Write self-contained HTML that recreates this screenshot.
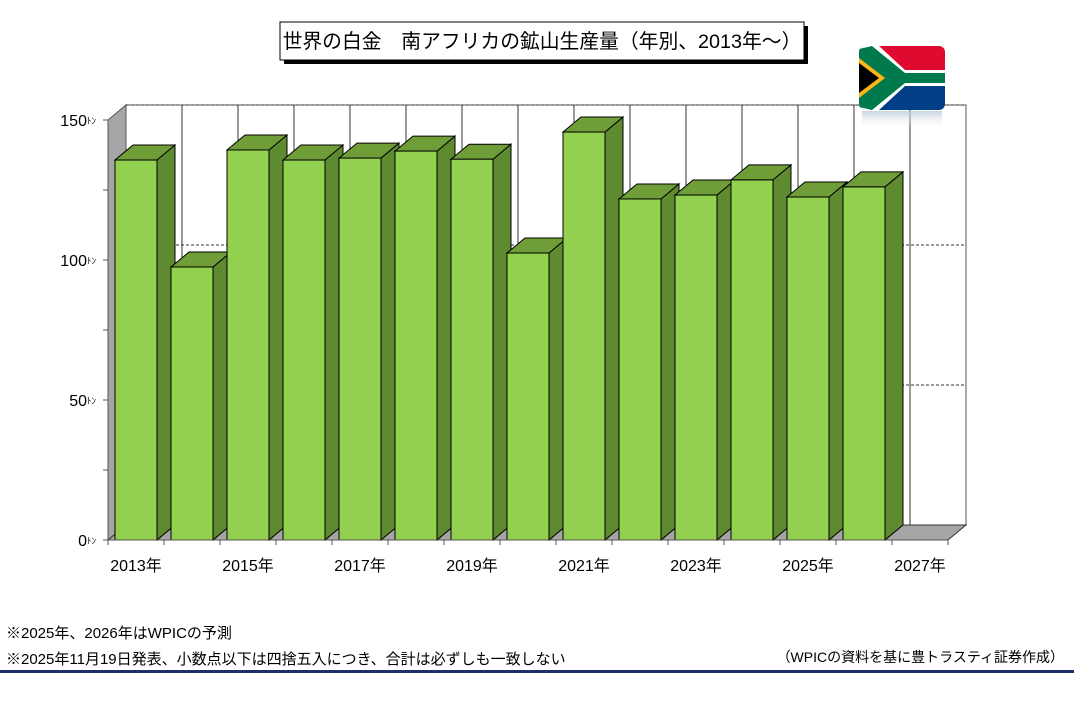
<!DOCTYPE html>
<html><head><meta charset="utf-8"><style>
body{margin:0;background:#fff;font-family:"Liberation Sans","Noto Sans CJK JP",sans-serif;}
#wrap{position:relative;width:1074px;height:707px;overflow:hidden;}
</style></head><body>
<div id="wrap">
<svg id="chart" width="1074" height="707" xmlns="http://www.w3.org/2000/svg" font-family="Liberation Sans, Noto Sans CJK JP, sans-serif"></svg>
</div>
<script>
const years=["2013年","2014年","2015年","2016年","2017年","2018年","2019年","2020年","2021年","2022年","2023年","2024年","2025年","2026年","2027年"];
const values=[135.7,97.5,139.3,135.7,136.4,138.9,136,102.5,145.7,121.8,123.2,128.6,122.5,126.1,null];
const tickValues=[0,50,100,150];
const tickLabels=["0","50","100","150"];
const xLabelYears=["2013年","2015年","2017年","2019年","2021年","2023年","2025年","2027年"];

const svg=document.getElementById('chart');
const NS='http://www.w3.org/2000/svg';
const X0=108,Y0=540,CW=56,DX=18,DY=-15,PX=2.8;
const yS=v=>Y0-v*PX;
const xS=i=>X0+i*CW;
function mk(tag,attrs,parent){const e=document.createElementNS(NS,tag);for(const k in attrs)e.setAttribute(k,attrs[k]);(parent||svg).appendChild(e);return e;}
const N=years.length, XR=xS(N);
// title
const tb=mk('rect',{x:284,y:26,width:524,height:38,fill:'#000'});

const tr=mk('rect',{x:280,y:22,width:524,height:38,fill:'#fff',stroke:'#000','stroke-width':1});

const tt=mk('text',{x:542,y:48,'text-anchor':'middle','font-size':19.8,fill:'#000'});
tt.textContent='世界の白金　南アフリカの鉱山生産量（年別、2013年～）';

// back wall
const bw=mk('rect',{x:X0+DX,y:yS(150)+DY,width:XR-X0,height:150*PX,fill:'#fff',stroke:'#555','stroke-width':1});

// left wall
const lw=mk('polygon',{points:`${X0},${yS(150)} ${X0+DX},${yS(150)+DY} ${X0+DX},${Y0+DY} ${X0},${Y0}`,fill:'#a6a6a6',stroke:'#555','stroke-width':1});

// floor
const fl=mk('polygon',{points:`${X0},${Y0} ${X0+DX},${Y0+DY} ${XR+DX},${Y0+DY} ${XR},${Y0}`,fill:'#a6a6a6',stroke:'#333','stroke-width':1});

// gridlines
tickValues.forEach(v=>{if(v===0)return;
 const g=mk('line',{x1:X0+DX,x2:XR+DX,y1:yS(v)+DY,y2:yS(v)+DY,stroke:'#333','stroke-dasharray':'3,2','stroke-width':1});
 });
for(let i=1;i<N;i++){const l=mk('line',{x1:xS(i)+DX,x2:xS(i)+DX,y1:yS(150)+DY,y2:Y0+DY,stroke:'#333','stroke-width':1});
 }
// bars
values.forEach((v,i)=>{if(v==null)return;
 const g=mk('g',{});
 const x=xS(i)+7,w=42,y=yS(v);
 mk('polygon',{points:`${x+w},${y} ${x+w+DX},${y+DY} ${x+w+DX},${Y0+DY} ${x+w},${Y0}`,fill:'#5e8a30',stroke:'#000','stroke-width':1},g);
 mk('polygon',{points:`${x},${y} ${x+DX},${y+DY} ${x+w+DX},${y+DY} ${x+w},${y}`,fill:'#6f9e38',stroke:'#000','stroke-width':1},g);
 mk('rect',{x:x,y:y,width:w,height:Y0-y,fill:'#92d050',stroke:'#000','stroke-width':1},g);
});
// y axis
const ya=mk('line',{x1:X0,x2:X0,y1:yS(150),y2:Y0,stroke:'#555'});

for(let v=0;v<=150;v+=25){mk('line',{x1:X0-5,x2:X0,y1:yS(v),y2:yS(v),stroke:'#555'});}
tickValues.forEach((v,i)=>{const t=mk('text',{x:X0-12,y:yS(v)+6,'text-anchor':'end','font-size':16,fill:'#000'});
 t.innerHTML=tickLabels[i]+'<tspan font-size="9" dy="-2">ﾄﾝ</tspan>';
 });
// x axis
const xa=mk('line',{x1:X0,x2:XR,y1:Y0,y2:Y0,stroke:'#555'});

for(let i=0;i<=N;i++)mk('line',{x1:xS(i),x2:xS(i),y1:Y0,y2:Y0+5,stroke:'#555'});
years.forEach((y,i)=>{if(!xLabelYears.includes(y))return;
 const t=mk('text',{x:xS(i)+28,y:Y0+31,'text-anchor':'middle','font-size':16,fill:'#000'});t.textContent=y;
 });
// flag
const f=mk('g',{});
const defs=mk('defs',{},f);
const cp=mk('clipPath',{id:'fc'},defs);mk('rect',{x:859,y:46,width:86,height:64,rx:6},cp);
const lg=mk('linearGradient',{id:'rg',x1:0,y1:0,x2:0,y2:1},defs);
mk('stop',{offset:0,'stop-color':'#b8c8d8','stop-opacity':0.8},lg);mk('stop',{offset:1,'stop-color':'#fff','stop-opacity':0},lg);
const fg=mk('g',{'clip-path':'url(#fc)'},f);
mk('rect',{x:859,y:46,width:86,height:32,fill:'#de0a30'},fg);
mk('rect',{x:859,y:78,width:86,height:32,fill:'#003f87'},fg);
mk('polygon',{points:'859,46 879,46 905,70 945,70 945,86 905,86 879,110 859,110',fill:'#fff'},fg);
mk('polygon',{points:'859,49 872,46 905,73 945,73 945,83 905,83 872,110 859,107',fill:'#007a4d'},fg);
mk('polygon',{points:'859,58 885,78 859,98',fill:'#ffb612'},fg);
mk('polygon',{points:'859,63 879,78 859,93',fill:'#000'},fg);
mk('rect',{x:862,y:111,width:80,height:18,fill:'url(#rg)'},f);
// notes
[['※2025年、2026年はWPICの予測',638],['※2025年11月19日発表、小数点以下は四捨五入につき、合計は必ずしも一致しない',664]].forEach((n,i)=>{
 const t=mk('text',{x:6,y:n[1],'font-size':15,fill:'#000'});t.textContent=n[0];
 });
const s=mk('text',{x:1064,y:662,'text-anchor':'end','font-size':14,fill:'#000'});s.textContent='（WPICの資料を基に豊トラスティ証券作成）';

const bl=mk('rect',{x:0,y:670,width:1074,height:3,fill:'#1f2d6b'});

</script>
</body></html>
